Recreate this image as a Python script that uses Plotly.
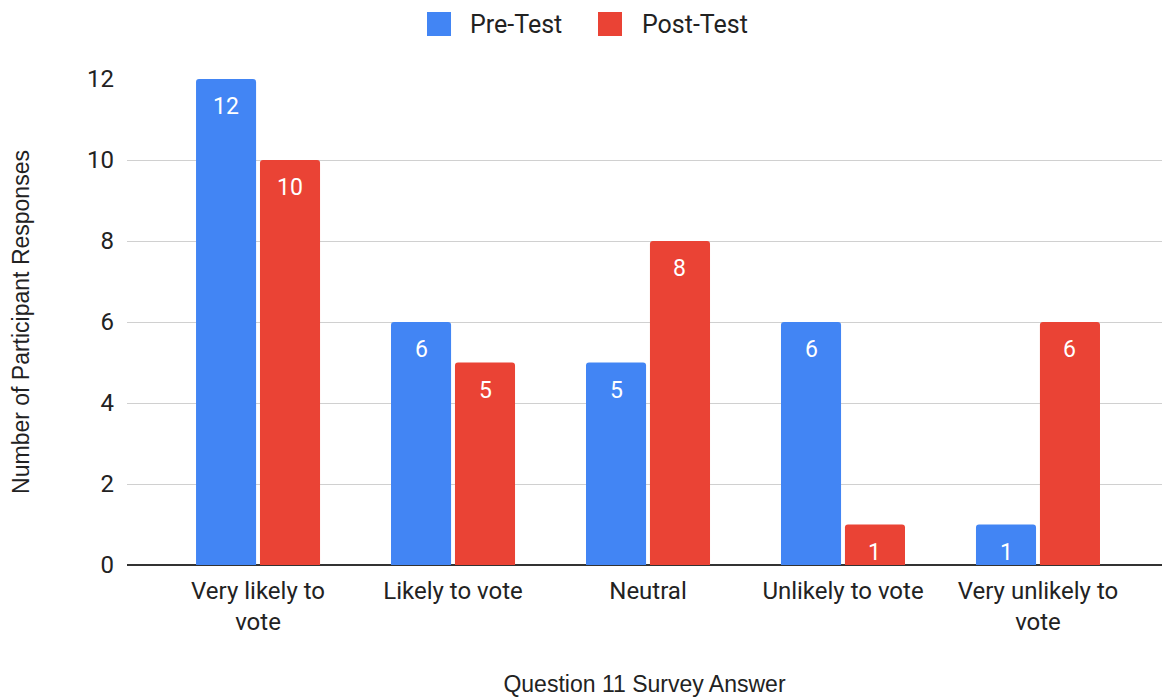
import plotly.graph_objects as go

categories = ["Very likely to<br>vote", "Likely to vote", "Neutral", "Unlikely to vote", "Very unlikely to<br>vote"]
pre_test = [12, 6, 5, 6, 1]
post_test = [10, 5, 8, 1, 6]
y_ticks = [0, 2, 4, 6, 8, 10, 12]
series = [("Pre-Test", pre_test, "#4285F4"), ("Post-Test", post_test, "#EA4335")]

TEXT = "#222222"
TICK_FONT = dict(family="Roboto, Arial, sans-serif", size=24, color=TEXT)
TITLE_FONT = dict(family="Liberation Sans, Arial, sans-serif", size=23, color=TEXT)
LABEL_FONT = dict(family="Roboto, Arial, sans-serif", size=23, color="white")

# bar geometry in category units: two bars per category with a thin gap
BAR_W = 0.308
GAP = 0.02
offsets = [-(BAR_W + GAP / 2), GAP / 2]

xs = list(range(len(categories)))
fig = go.Figure()
annotations = []
for (name, vals, color), off in zip(series, offsets):
    fig.add_trace(go.Bar(
        x=xs, y=vals, name=name, width=BAR_W, offset=off,
        marker=dict(color=color, line=dict(width=0), cornerradius=3),
        showlegend=False, hoverinfo="x+y",
    ))
    for xi, v in zip(xs, vals):
        annotations.append(dict(
            x=xi + off + BAR_W / 2, y=v, xref="x", yref="y",
            text=str(v), showarrow=False, font=LABEL_FONT,
            yanchor="top", yshift=-12,
        ))

# legend: colour swatches with their labels above the plot
legend_items = [("Pre-Test", "#4285F4", 427, 468), ("Post-Test", "#EA4335", 598, 640)]
shapes = []
for name, color, sx, tx in legend_items:
    shapes.append(dict(
        type="rect", xref="paper", yref="paper",
        x0=(sx - 127) / 1035, x1=(sx + 24 - 127) / 1035,
        y0=(565 - 36) / 486, y1=(565 - 12) / 486,
        fillcolor=color, line=dict(width=0), layer="above",
    ))
    annotations.append(dict(
        x=(tx - 127) / 1035, y=(565 - 24) / 486, xref="paper", yref="paper",
        text=name, showarrow=False, xanchor="left", yanchor="middle",
        font=dict(family="Roboto, Arial, sans-serif", size=25, color=TEXT),
    ))

fig.update_layout(
    width=1162, height=698,
    margin=dict(l=127, r=0, t=79, b=133),
    paper_bgcolor="white", plot_bgcolor="white",
    showlegend=False,
    annotations=annotations, shapes=shapes,
)
fig.update_xaxes(
    tickmode="array", tickvals=xs, ticktext=categories,
    range=[-0.672, 4.636], tickfont=TICK_FONT, showgrid=False,
    showline=False, zeroline=False, ticklabelstandoff=9,
    title=dict(text="Question 11 Survey Answer", font=TITLE_FONT, standoff=40),
    automargin=False,
)
fig.update_yaxes(
    range=[0, 12], tickvals=y_ticks, tickfont=TICK_FONT,
    showgrid=True, gridcolor="#D0D0D0", gridwidth=1,
    zeroline=True, zerolinecolor="#333333", zerolinewidth=2,
    ticklabelstandoff=12,
    title=dict(text="Number of Participant Responses", font=TITLE_FONT, standoff=50),
    automargin=False,
)

fig.write_html("out.html")
